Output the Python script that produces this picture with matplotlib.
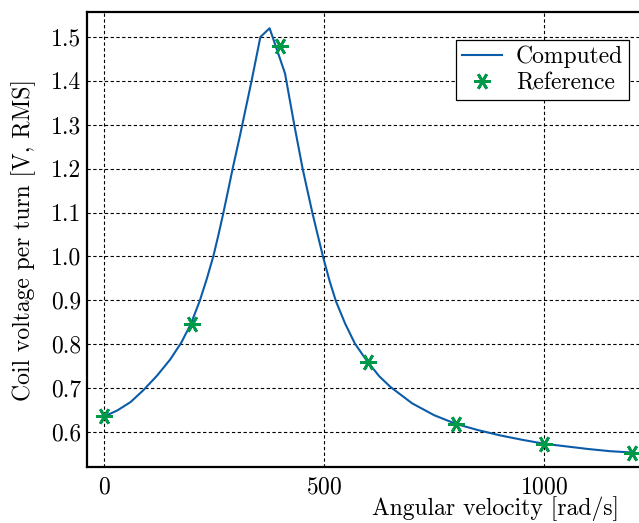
import matplotlib
matplotlib.use("Agg")
import matplotlib.pyplot as plt

plt.rcParams["font.family"] = ["cmr10", "DejaVu Serif"]
plt.rcParams["mathtext.fontset"] = "cm"
plt.rcParams["axes.formatter.use_mathtext"] = True

# Computed coil voltage vs angular velocity
omega_computed = [0, 30, 60, 89, 120, 150, 175, 197, 217, 233,
                  248, 259, 270, 281, 292, 309, 335, 355, 376, 411, 432, 451, 473, 485,
                  498, 512, 527, 548, 570, 597, 625, 650, 700, 750, 800, 850, 900, 950,
                  1000, 1050, 1100, 1150, 1200]
volt_computed = [0.635, 0.649, 0.668, 0.695, 0.728, 0.765, 0.803, 0.846, 0.898, 0.948,
                 1.000, 1.046, 1.095, 1.147, 1.200, 1.277, 1.400, 1.500, 1.520, 1.417,
                 1.300, 1.200, 1.100, 1.050, 0.997, 0.945, 0.897, 0.846, 0.801, 0.762,
                 0.727, 0.703, 0.665, 0.638, 0.618, 0.604, 0.592, 0.582, 0.573, 0.567,
                 0.561, 0.556, 0.553]

# Reference measurements
omega_ref = [0, 200, 400, 600, 800, 1000, 1200]
volt_ref = [0.636, 0.846, 1.479, 0.759, 0.618, 0.573, 0.552]

x_ticks = [0, 500, 1000]
y_ticks = [0.6, 0.7, 0.8, 0.9, 1.0, 1.1, 1.2, 1.3, 1.4, 1.5]

blue = "#0b5ca8"
green = "#00994a"
fs = 17

fig = plt.figure(figsize=(6.39, 5.23), dpi=100)
ax = fig.add_axes([87 / 639, 56 / 523, 554 / 639, 455 / 523])

ax.plot(omega_computed, volt_computed, color=blue, lw=1.5, label="Computed", zorder=3)
ax.plot(omega_ref, volt_ref, linestyle="none", marker=(6, 2, 90), markersize=12,
        markeredgewidth=2.0, color=green, label="Reference", zorder=4, clip_on=False)

ax.set_xlim(-39, 1220)
ax.set_ylim(0.52, 1.557)
ax.set_xticks(x_ticks)
ax.set_yticks(y_ticks)
ax.set_yticklabels([f"{v:.1f}" for v in y_ticks])
ax.tick_params(length=0, labelsize=fs)
ax.tick_params(axis="x", pad=7)
ax.tick_params(axis="y", pad=4)

ax.grid(True, color="black", lw=0.8, linestyle=(0, (3, 2.2)))
ax.set_axisbelow(True)

for side in ["left", "bottom", "top"]:
    ax.spines[side].set_linewidth(1.6)
ax.spines["right"].set_visible(False)

fig.text(24 / 639, 1 - 240 / 523, "Coil voltage per turn [V, RMS]", rotation=90,
         ha="center", va="center", fontsize=fs)
fig.text(495 / 639, 1 - 509 / 523, "Angular velocity [rad/s]",
         ha="center", va="center", fontsize=fs)

leg = ax.legend(loc="upper right", bbox_to_anchor=(629 / 639, 1 - 40 / 523),
                bbox_transform=fig.transFigure, borderaxespad=0, fontsize=fs,
                fancybox=False, framealpha=1, edgecolor="black",
                handlelength=1.7, handletextpad=0.6, borderpad=0.25,
                labelspacing=0.15)
leg.get_frame().set_linewidth(0.9)

fig.savefig("out.png", dpi=100)
